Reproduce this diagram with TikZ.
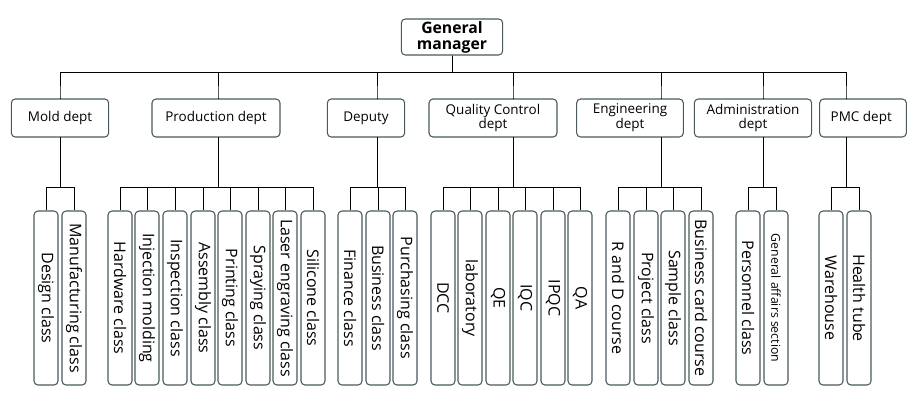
\documentclass[tikz,border=0pt]{standalone}
\usepackage{fontspec}
\setmainfont{Open Sans}
\definecolor{boxLine}{HTML}{4A5A5E}
\usetikzlibrary{calc, positioning}

\begin{document}
\begin{tikzpicture}[x=0.75pt, y=-0.75pt,
	dept/.style={rectangle, rounded corners=3pt, draw=boxLine, line width=0.8pt, fill=white, align=center, font=\fontsize{10.1}{11.2}\selectfont, inner sep=1pt, minimum height=28.5pt},
	cls/.style={rectangle, rounded corners=3pt, draw=boxLine, line width=0.8pt, fill=white, rotate=-90, minimum width=130.5pt, minimum height=18pt, inner sep=0pt, font=\fontsize{12}{13}\selectfont},
	link/.style={draw=black, line width=0.6pt}]
	\useasboundingbox (0,0) rectangle (914,415);
	\node[dept, minimum width=76pt, minimum height=27pt, font=\bfseries\fontsize{11.8}{12}\selectfont] (gm) at (452,37) {General\\manager};
		\foreach \x/\w/\alph/\name in {
			60/73/mold/Mold dept,
			216/96/prod/Production dept,
			366/58/dep/Deputy,
			493/96/qc/Quality Control\\dept,
			630/80/eng/Engineering\\dept,
			753/88/adm/Administration\\dept,
			863/65/pmc/PMC dept
		 }{
		 	\node[dept, minimum width=\w pt] (\alph) at (\x,118) {\name};
		 }
		 \foreach \alph/\lx in {mold/60, prod/218, dep/377, qc/513, eng/661, adm/763, pmc/846}
		 {\draw[link] (gm.south) -- ++(0,17) -| (\lx,99) -- (\alph.north -| \lx,99);}
		 \foreach \x/\alph/\lx/\name in {
			46/c1/60/Design class, 74/c2/60/Manufacturing class,
			120/c3/218/Hardware class, 147/c4/218/Injection molding, 175/c5/218/Inspection class, 203/c6/218/Assembly class,
			230/c7/218/Printing class, 258/c8/218/Spraying class, 285/c9/218/Laser engraving class, 313/c10/218/Silicone class,
			350/c11/377/Finance class, 378/c12/377/Business class, 405/c13/377/Purchasing class,
			443/c14/513/DCC, 470/c15/513/laboratory, 498/c16/513/QE, 525/c17/513/IQC, 553/c18/513/IPQC, 580/c19/513/QA,
			618/c20/661/R and D course, 646/c21/661/Project class, 673/c22/661/Sample class, 701/c23/661/Business card course,
			748/c24/763/Personnel class, 776/c25/763/{\fontsize{9.2}{10}\selectfont General affairs section},
			831/c26/846/Warehouse, 859/c27/846/Health tube
		 }{
		 	\node[cls] (\alph) at (\x,298) {\name};
		 	\draw[link] (\lx,137) -- (\lx,187) -| (\alph.west);
		 }
	\end{tikzpicture}
\end{document}
